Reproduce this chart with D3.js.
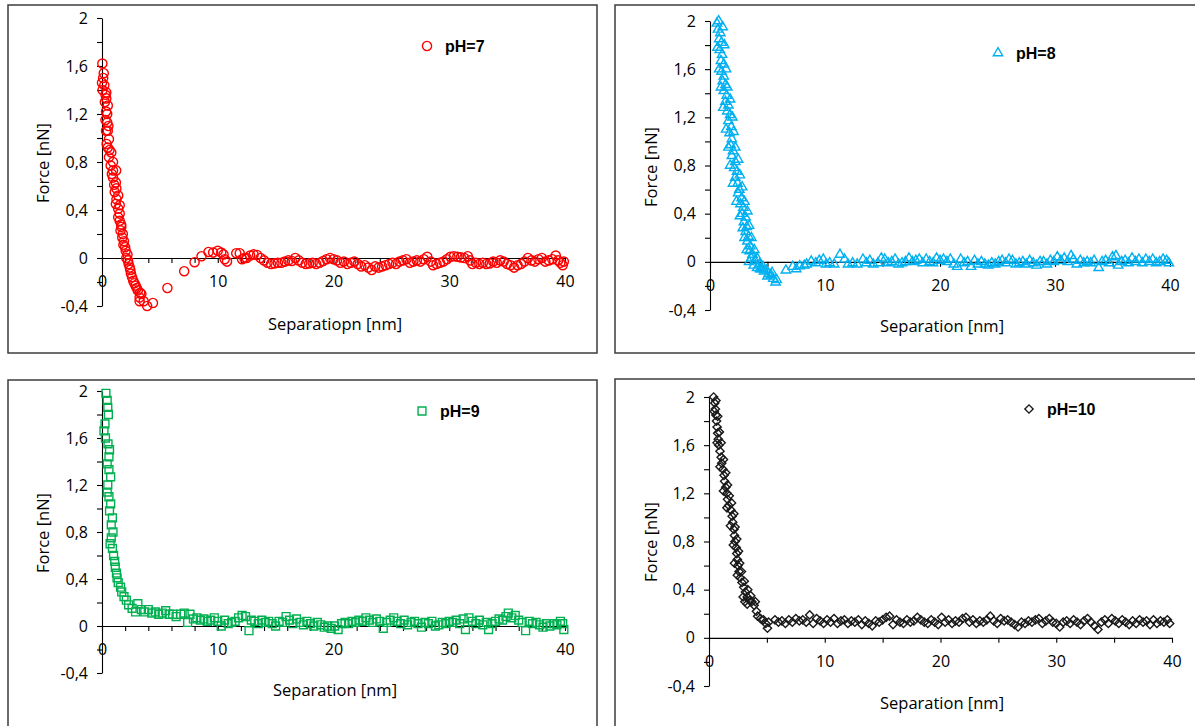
<!DOCTYPE html>
<html>
<head>
<meta charset="utf-8">
<script src="https://cdn.jsdelivr.net/npm/d3@7"></script>
<style>
  body { margin: 0; background: #fff; }
  svg text { font-family: "Open Sans", sans-serif; fill: #000; }
</style>
</head>
<body>
<div id="chart"></div>
<script>
// force curves, [separation nm, force nN]
const ph7 = [
  [0.0,1.46],[0.03,1.62],[0.1,1.5],[0.15,1.54],[0.05,1.4],[0.2,1.44],[0.3,1.36],[0.37,1.38],[0.25,1.3],[0.37,1.33],
  [0.5,1.27],[0.35,1.22],[0.45,1.2],[0.3,1.15],[0.45,1.13],[0.55,1.1],[0.35,1.06],[0.5,1.06],[0.6,0.99],[0.4,0.95],
  [0.5,0.92],[0.65,0.9],[0.8,0.88],[0.6,0.84],[0.95,0.8],[0.75,0.77],[0.95,0.73],[1.22,0.73],[0.85,0.7],[0.95,0.67],
  [1.2,0.63],[1.05,0.61],[1.24,0.58],[1.1,0.55],[1.4,0.52],[1.25,0.49],[1.2,0.45],[1.53,0.44],[1.4,0.41],[1.53,0.37],
  [1.4,0.34],[1.53,0.31],[1.65,0.28],[1.67,0.26],[1.6,0.23],[1.8,0.2],[1.75,0.17],[1.9,0.14],[1.85,0.11],[2.0,0.09],
  [2.05,0.06],[2.2,0.03],[2.1,0.0],[2.25,-0.02],[2.3,-0.05],[2.4,-0.08],[2.45,-0.1],[2.5,-0.13],[2.6,-0.16],[2.7,-0.19],
  [2.8,-0.21],[2.9,-0.23],[3.0,-0.25],[3.1,-0.27],[3.3,-0.29],[3.4,-0.3],[3.25,-0.33],[3.25,-0.36],[3.6,-0.36],[3.9,-0.4],
  [4.4,-0.375],[5.65,-0.25],[7.1,-0.11],[8.0,-0.035],[8.6,0.015],[9.2,0.05],[9.6,0.045],[10.0,0.06],[10.3,0.045],[10.5,0.03],
  [10.6,-0.01],[10.8,-0.03],[11.6,0.04],[11.9,0.04],[12.1,-0.01],[12.3,0.0],[12.5,0.0],[12.8,0.02],[13.1,0.03],[13.4,0.025],
  [13.7,0.0],[14.0,-0.02],[14.3,-0.04],[14.6,-0.05],[14.9,-0.045],[15.2,-0.04],[15.5,-0.04],[15.8,-0.03],[16.1,-0.02],[16.4,-0.025],
  [16.7,0.0],[17.0,-0.02],[17.3,-0.04],[17.6,-0.05],[17.9,-0.045],[18.2,-0.04],[18.5,-0.05],[18.8,-0.04],[19.1,-0.025],[19.4,-0.01],
  [19.7,0.0],[20.0,-0.01],[20.3,-0.02],[20.6,-0.04],[20.9,-0.03],[21.2,-0.05],[21.5,-0.04],[21.8,-0.03],[22.1,-0.05],[22.4,-0.07],
  [22.7,-0.06],[23.0,-0.08],[23.3,-0.1],[23.6,-0.07],[23.9,-0.08],[24.2,-0.07],[24.5,-0.06],[24.8,-0.05],[25.1,-0.04],[25.4,-0.05],
  [25.7,-0.03],[26.0,-0.02],[26.3,-0.01],[26.6,-0.04],[26.9,-0.03],[27.2,-0.02],[27.5,-0.03],[27.8,-0.01],[28.1,0.01],[28.4,-0.03],
  [28.6,-0.06],[28.9,-0.05],[29.2,-0.04],[29.5,-0.03],[29.8,-0.01],[30.1,0.01],[30.4,0.015],[30.7,0.01],[31.0,0.005],[31.3,0.0],
  [31.6,0.015],[31.8,-0.02],[32.0,-0.05],[32.3,-0.04],[32.6,-0.05],[32.9,-0.04],[33.2,-0.05],[33.5,-0.045],[33.8,-0.03],[34.1,-0.04],
  [34.4,-0.02],[34.7,-0.03],[35.0,-0.05],[35.3,-0.06],[35.6,-0.08],[35.9,-0.06],[36.2,-0.05],[36.5,-0.03],[36.8,0.0],[37.1,-0.02],
  [37.4,-0.03],[37.7,-0.01],[38.0,0.0],[38.3,-0.03],[38.6,-0.02],[38.9,-0.01],[39.2,0.02],[39.4,-0.02],[39.6,-0.04],[39.8,-0.06],
  [39.9,-0.03]
];

const ph8 = [
  [0.6,1.98],[0.75,2.0],[0.7,1.93],[0.9,1.9],[0.8,1.85],[1.0,1.82],[0.85,1.76],[1.05,1.72],[0.95,1.67],[1.2,1.64],
  [1.0,1.58],[1.2,1.54],[1.1,1.5],[1.35,1.47],[1.2,1.42],[1.45,1.38],[1.35,1.33],[1.6,1.3],[1.5,1.25],[1.75,1.22],
  [1.6,1.17],[1.85,1.12],[1.7,1.07],[1.9,1.02],[1.8,0.97],[2.0,0.92],[1.9,0.88],[2.2,0.83],[2.1,0.78],[2.35,0.75],
  [2.2,0.7],[2.4,0.65],[2.55,0.6],[2.45,0.57],[2.75,0.53],[2.65,0.48],[2.9,0.45],[2.8,0.4],[3.1,0.37],[2.95,0.33],
  [3.2,0.29],[3.1,0.25],[3.35,0.21],[3.25,0.17],[3.5,0.13],[3.45,0.09],[3.7,0.06],[3.6,0.03],[3.9,0.01],[3.8,-0.03],
  [1.1,1.95],[1.25,1.8],[1.4,1.6],[1.5,1.45],[1.75,1.35],[1.95,1.2],[2.05,1.08],[2.2,0.95],[2.45,0.85],[2.6,0.72],
  [2.8,0.62],[3.0,0.5],[3.25,0.42],[3.4,0.3],[3.6,0.2],[3.85,0.1],[4.1,0.03],[4.35,-0.06],[4.6,-0.04],[5.0,-0.12],
  [0.65,1.78],[0.8,1.6],[0.95,1.45],[1.15,1.28],[1.4,1.1],[1.6,0.95],[1.75,0.8],[2.0,0.65],[2.3,0.5],[2.6,0.38],
  [2.85,0.28],[3.0,0.2],[3.2,0.1],[3.4,0.0],[5.4,-0.09],
  [4.1,-0.05],[4.3,-0.02],[4.5,-0.06],[4.7,-0.08],[4.9,-0.07],[5.1,-0.1],[5.3,-0.11],[5.5,-0.14],[5.7,-0.17],[5.8,-0.15],
  [6.6,-0.07],[7.2,-0.04],[7.5,-0.06],[7.8,-0.035],[8.2,-0.03],[8.4,-0.02],[8.8,0.005],[9.2,-0.01],[9.5,0.01],[9.85,0.02],
  [10.1,-0.02],[10.4,-0.01],[10.8,-0.02],[11.3,0.06],[11.7,0.02],[12.0,-0.02],[12.4,-0.01],[12.8,-0.02],[13.3,0.02],[13.6,-0.01],
  [13.9,0.01],[14.2,-0.02],[14.6,-0.01],[14.9,0.03],[15.2,0.02],[15.5,-0.01],[15.8,0.0],[16.1,0.02],[16.4,-0.02],[16.7,-0.01],
  [17.0,0.0],[17.3,0.03],[17.6,0.0],[17.9,0.01],[18.2,0.02],[18.5,-0.01],[18.8,0.02],[19.1,0.0],[19.4,-0.01],[19.7,0.03],
  [20.0,0.01],[20.3,0.02],[20.6,0.0],[20.9,0.02],[21.2,-0.02],[21.5,-0.04],[21.8,0.02],[22.1,-0.01],[22.4,0.0],[22.7,-0.04],
  [23.0,0.01],[23.3,-0.02],[23.6,0.0],[23.9,-0.02],[24.2,-0.03],[24.5,-0.01],[24.8,-0.02],[25.1,0.0],[25.4,0.01],[25.7,-0.01],
  [26.0,0.02],[26.3,0.01],[26.6,-0.02],[26.9,-0.01],[27.2,0.0],[27.5,-0.02],[27.8,0.01],[28.1,-0.01],[28.4,-0.03],[28.7,0.0],
  [29.0,0.0],[29.3,-0.02],[29.6,0.01],[29.9,0.0],[30.2,0.04],[30.5,0.01],[30.8,0.03],[31.1,0.0],[31.4,0.05],[31.6,0.02],
  [31.9,-0.02],[32.2,0.01],[32.5,-0.01],[32.8,0.0],[33.1,-0.01],[33.4,0.01],[33.8,-0.05],[34.1,0.0],[34.4,0.01],[34.7,-0.01],
  [35.0,0.04],[35.3,0.05],[35.5,-0.03],[35.8,0.0],[36.1,0.01],[36.4,-0.01],[36.7,0.03],[37.0,0.0],[37.3,0.02],[37.6,-0.01],
  [37.9,0.02],[38.2,0.0],[38.5,0.02],[38.8,-0.01],[39.1,0.0],[39.4,0.02],[39.7,0.01],[39.9,-0.01]
];

const ph9 = [
  [0.34,1.98],[0.45,1.92],[0.5,1.86],[0.55,1.8],[0.26,1.72],[0.17,1.66],[0.3,1.6],[0.52,1.55],[0.65,1.5],[0.6,1.44],
  [0.45,1.38],[0.6,1.33],[0.75,1.27],[0.5,1.2],[0.45,1.14],[0.6,1.1],[0.75,1.04],[0.65,0.98],[0.9,0.92],[0.8,0.86],
  [0.95,0.8],[0.8,0.75],[0.7,0.7],[0.9,0.66],[1.0,0.6],[1.1,0.55],[1.15,0.5],[1.25,0.45],[1.3,0.41],[1.4,0.37],
  [1.6,0.33],[1.7,0.29],[1.9,0.25],[2.1,0.22],[2.3,0.18],[2.6,0.15],[2.9,0.12],[3.1,0.19],[3.4,0.14],[3.7,0.12],
  [4.0,0.14],[4.3,0.11],[4.6,0.12],[4.9,0.1],[5.2,0.11],[5.5,0.13],[5.8,0.1],[6.1,0.1],[6.4,0.08],[6.8,0.1],
  [7.1,0.11],[7.4,0.03],[7.6,0.1],[7.9,0.06],[8.2,0.07],[8.5,0.05],[8.8,0.06],[9.1,0.04],[9.4,0.05],[9.7,0.07],
  [10.0,0.04],[10.3,0.0],[10.6,0.05],[10.9,0.02],[11.2,0.03],[11.5,0.04],[11.8,0.07],[12.1,0.09],[12.4,0.08],[12.7,-0.04],
  [12.9,0.05],[13.2,0.04],[13.5,0.02],[13.8,0.05],[14.1,0.03],[14.4,0.04],[14.7,0.02],[15.0,0.0],[15.3,0.04],[15.6,0.03],
  [15.9,0.08],[16.2,0.05],[16.5,0.02],[16.8,0.06],[17.1,0.03],[17.4,0.01],[17.7,0.04],[18.0,0.02],[18.3,0.0],[18.6,0.03],
  [18.9,0.01],[19.2,-0.01],[19.5,0.0],[19.8,-0.02],[20.1,0.0],[20.4,-0.03],[20.7,0.02],[21.0,0.03],[21.3,0.02],[21.6,0.04],
  [21.9,0.03],[22.2,0.05],[22.5,0.04],[22.8,0.07],[23.1,0.05],[23.4,0.03],[23.7,0.06],[24.0,0.04],[24.3,-0.02],[24.6,0.03],
  [24.9,0.05],[25.2,0.07],[25.5,0.04],[25.8,0.02],[26.1,0.05],[26.4,0.01],[26.7,0.03],[27.0,0.04],[27.3,0.02],[27.6,-0.01],
  [27.9,0.03],[28.2,0.02],[28.5,0.04],[28.8,0.0],[29.1,0.01],[29.4,0.03],[29.7,0.02],[30.0,0.04],[30.3,0.03],[30.6,0.05],
  [30.9,0.02],[31.2,0.06],[31.4,-0.03],[31.7,0.07],[32.0,0.04],[32.3,0.02],[32.6,0.05],[32.9,0.01],[33.2,0.03],[33.4,-0.03],
  [33.7,0.02],[34.0,0.04],[34.3,0.06],[34.6,0.05],[34.9,0.08],[35.1,0.11],[35.4,0.07],[35.7,0.09],[36.0,0.05],[36.3,0.03],
  [36.6,-0.04],[36.9,0.04],[37.2,0.02],[37.5,0.03],[37.8,0.01],[38.1,-0.01],[38.4,0.02],[38.7,0.0],[39.0,0.02],[39.3,0.01],
  [39.6,0.04],[39.8,0.02],[39.9,-0.03]
];

const ph10 = [
  [0.4,2.0],[0.5,1.95],[0.45,1.88],[0.55,1.9],[0.6,1.85],[0.65,1.8],[0.7,1.75],[0.75,1.7],[0.8,1.65],[0.7,1.62],
  [0.85,1.6],[0.95,1.55],[1.05,1.5],[1.1,1.45],[0.95,1.42],[1.2,1.4],[1.3,1.35],[1.35,1.3],[1.45,1.25],[1.25,1.22],
  [1.55,1.2],[1.6,1.15],[1.7,1.1],[1.55,1.08],[1.9,1.06],[2.0,1.01],[2.05,0.96],[1.85,0.93],[2.15,0.9],[2.2,0.85],
  [2.25,0.8],[2.1,0.77],[2.35,0.75],[2.4,0.7],[2.45,0.65],[2.2,0.62],[2.5,0.6],[2.6,0.55],[2.45,0.52],[2.7,0.5],
  [2.85,0.46],[3.0,0.42],[3.15,0.38],[2.95,0.34],[3.3,0.34],[3.1,0.3],[3.5,0.31],[3.7,0.3],[3.3,0.28],[3.9,0.27],
  [0.6,1.97],[0.75,1.84],[0.9,1.71],[1.05,1.62],[1.25,1.48],[1.45,1.37],[1.6,1.27],[1.75,1.18],[1.95,1.12],[2.15,1.03],
  [2.25,0.92],[2.4,0.82],[2.55,0.72],[2.65,0.62],[2.8,0.55],[3.05,0.47],[3.35,0.4],[3.6,0.35],[4.0,0.3],
  [4.1,0.22],[4.2,0.18],[4.45,0.16],[4.7,0.15],[4.9,0.12],[5.05,0.08],[5.15,0.13],[5.7,0.15],[6.0,0.13],[6.3,0.14],
  [6.6,0.12],[6.9,0.15],[7.2,0.13],[7.5,0.16],[7.8,0.14],[8.1,0.15],[8.4,0.13],[8.7,0.19],[9.0,0.12],[9.3,0.16],
  [9.6,0.14],[9.9,0.12],[10.2,0.15],[10.5,0.13],[10.8,0.16],[11.1,0.12],[11.4,0.14],[11.7,0.15],[12.0,0.12],[12.3,0.14],
  [12.6,0.13],[12.9,0.15],[13.2,0.11],[13.5,0.14],[13.8,0.12],[14.1,0.1],[14.4,0.14],[14.7,0.13],[15.0,0.15],[15.3,0.17],
  [15.6,0.18],[15.9,0.11],[16.2,0.15],[16.5,0.13],[16.8,0.12],[17.1,0.15],[17.4,0.13],[17.7,0.14],[18.0,0.17],[18.3,0.15],
  [18.6,0.13],[18.9,0.12],[19.2,0.15],[19.5,0.13],[19.8,0.11],[20.1,0.17],[20.4,0.13],[20.7,0.15],[21.0,0.12],[21.3,0.14],
  [21.6,0.13],[21.9,0.16],[22.2,0.17],[22.5,0.13],[22.8,0.15],[23.1,0.12],[23.4,0.14],[23.7,0.13],[24.0,0.15],[24.3,0.18],
  [24.6,0.14],[24.9,0.12],[25.2,0.16],[25.5,0.14],[25.8,0.15],[26.1,0.13],[26.4,0.11],[26.7,0.09],[27.0,0.13],[27.3,0.12],
  [27.6,0.14],[27.9,0.13],[28.2,0.15],[28.5,0.16],[28.8,0.12],[29.1,0.14],[29.4,0.16],[29.7,0.13],[30.0,0.12],[30.3,0.09],
  [30.6,0.13],[30.9,0.14],[31.2,0.12],[31.5,0.15],[31.8,0.13],[32.1,0.11],[32.4,0.14],[32.7,0.16],[33.0,0.13],[33.3,0.1],
  [33.6,0.07],[33.9,0.13],[34.2,0.15],[34.5,0.12],[34.8,0.16],[35.1,0.14],[35.4,0.12],[35.7,0.15],[36.0,0.13],[36.3,0.11],
  [36.6,0.14],[36.9,0.12],[37.2,0.15],[37.5,0.13],[37.8,0.14],[38.1,0.11],[38.4,0.15],[38.7,0.12],[39.0,0.14],[39.3,0.13],
  [39.6,0.15],[39.8,0.12]
];

const xTickLabels = ["0", "10", "20", "30", "40"];
const yTickLabels = ["-0,4", "0", "0,4", "0,8", "1,2", "1,6", "2"];
const yMajor = [-0.4, 0, 0.4, 0.8, 1.2, 1.6, 2];
const seriesNames = ["pH=7", "pH=8", "pH=9", "pH=10"];
const xTitles = ["Separatiopn [nm]", "Separation [nm]", "Separation [nm]", "Separation [nm]"];

// layout of each panel (pixel positions only)
var panels = [
  {data: ph7, color: "#ff0000", shape: "circle", box: [8, 5, 589, 348],
   plot: [102, 565, 18, 306], minor: 2, legend: [427, 46], xt: [335, 323], yt: [42, 163]},
  {data: ph8, color: "#00b0f0", shape: "triangle", box: [615, 5, 600, 348],
   plot: [710, 1170, 21, 310], minor: 5, legend: [998, 53], xt: [942, 325], yt: [650, 167]},
  {data: ph9, color: "#00b050", shape: "square", box: [8, 380, 589, 360],
   plot: [102, 565, 391, 673], minor: 2, legend: [422, 411], xt: [335, 689], yt: [42, 533]},
  {data: ph10, color: "#1a1a1a", shape: "diamond", box: [615, 379, 600, 360],
   plot: [709, 1172, 397, 686], minor: 5, legend: [1029, 409], xt: [942, 702], yt: [650, 542]}
];

var svg = d3.select("#chart")
  .append("svg")
    .attr("width", 1195)
    .attr("height", 726);

// marker path generators
function markerPath(shape) {
  if (shape === "circle") return d3.symbol(d3.symbolCircle, 66)();
  if (shape === "triangle") return d3.symbol(d3.symbolTriangle, 38)();
  if (shape === "square") return d3.symbol(d3.symbolSquare, 62)();
  return d3.symbol(d3.symbolSquare, 34)();
}

panels.forEach((p, i) => {
  var g = svg.append("g");

  // frame
  g.append("rect")
    .attr("x", p.box[0]).attr("y", p.box[1])
    .attr("width", p.box[2]).attr("height", p.box[3])
    .attr("fill", "none")
    .attr("stroke", "#3c3c3c")
    .attr("stroke-width", 1.5);

  var x = d3.scaleLinear().domain([0, 40]).range([p.plot[0], p.plot[1]]);
  var y = d3.scaleLinear().domain([-0.4, 2]).range([p.plot[3], p.plot[2]]);

  // y axis, minor ticks every 0.2, labels every 0.4
  var yAll = d3.range(-4, 21, 2).map(v => v / 10);
  var yAxis = g.append("g")
    .attr("transform", `translate(${x(0)},0)`)
    .call(d3.axisLeft(y)
      .tickValues(yAll)
      .tickSize(5)
      .tickSizeOuter(0)
      .tickPadding(9)
      .tickFormat(v => {
        var k = yMajor.findIndex(m => Math.abs(m - v) < 1e-6);
        return k < 0 ? "" : yTickLabels[k];
      }));

  // x axis along force = 0
  var xAll = d3.range(0, 40.01, p.minor);
  var xAxis = g.append("g")
    .attr("transform", `translate(0,${y(0)})`)
    .call(d3.axisBottom(x)
      .tickValues(xAll)
      .tickSize(5)
      .tickSizeOuter(0)
      .tickPadding(13)
      .tickFormat(v => v % 10 === 0 ? xTickLabels[v / 10] : ""));

  [yAxis, xAxis].forEach(a => {
    a.selectAll("path, line").attr("stroke", "#000").attr("stroke-width", 1.1);
    a.selectAll("text")
      .style("font-family", "Open Sans")
      .style("font-size", "16px")
      .attr("fill", "#000");
  });

  // axis titles
  g.append("text")
    .attr("x", p.xt[0]).attr("y", p.xt[1])
    .attr("text-anchor", "middle")
    .attr("dominant-baseline", "central")
    .style("font-size", "16.5px")
    .text(xTitles[i]);

  g.append("text")
    .attr("transform", `translate(${p.yt[0]},${p.yt[1]}) rotate(-90)`)
    .attr("text-anchor", "middle")
    .attr("dominant-baseline", "central")
    .style("font-size", "16.5px")
    .text("Force [nN]");

  // data markers
  var rot = p.shape === "diamond" ? " rotate(45)" : "";
  g.append("g")
    .selectAll("path")
    .data(p.data)
    .join("path")
      .attr("d", markerPath(p.shape))
      .attr("transform", d => `translate(${x(d[0])},${y(d[1])})${rot}`)
      .attr("fill", "none")
      .attr("stroke", p.color)
      .attr("stroke-width", 1.4);

  // legend
  g.append("path")
    .attr("d", markerPath(p.shape))
    .attr("transform", `translate(${p.legend[0]},${p.legend[1]})${rot}`)
    .attr("fill", "none")
    .attr("stroke", p.color)
    .attr("stroke-width", 1.4);

  g.append("text")
    .attr("x", p.legend[0] + 18)
    .attr("y", p.legend[1])
    .attr("dominant-baseline", "central")
    .style("font-family", "Liberation Sans, Arial, sans-serif")
    .style("font-weight", "bold")
    .style("font-size", "16px")
    .text(seriesNames[i]);
});
</script>
</body>
</html>
